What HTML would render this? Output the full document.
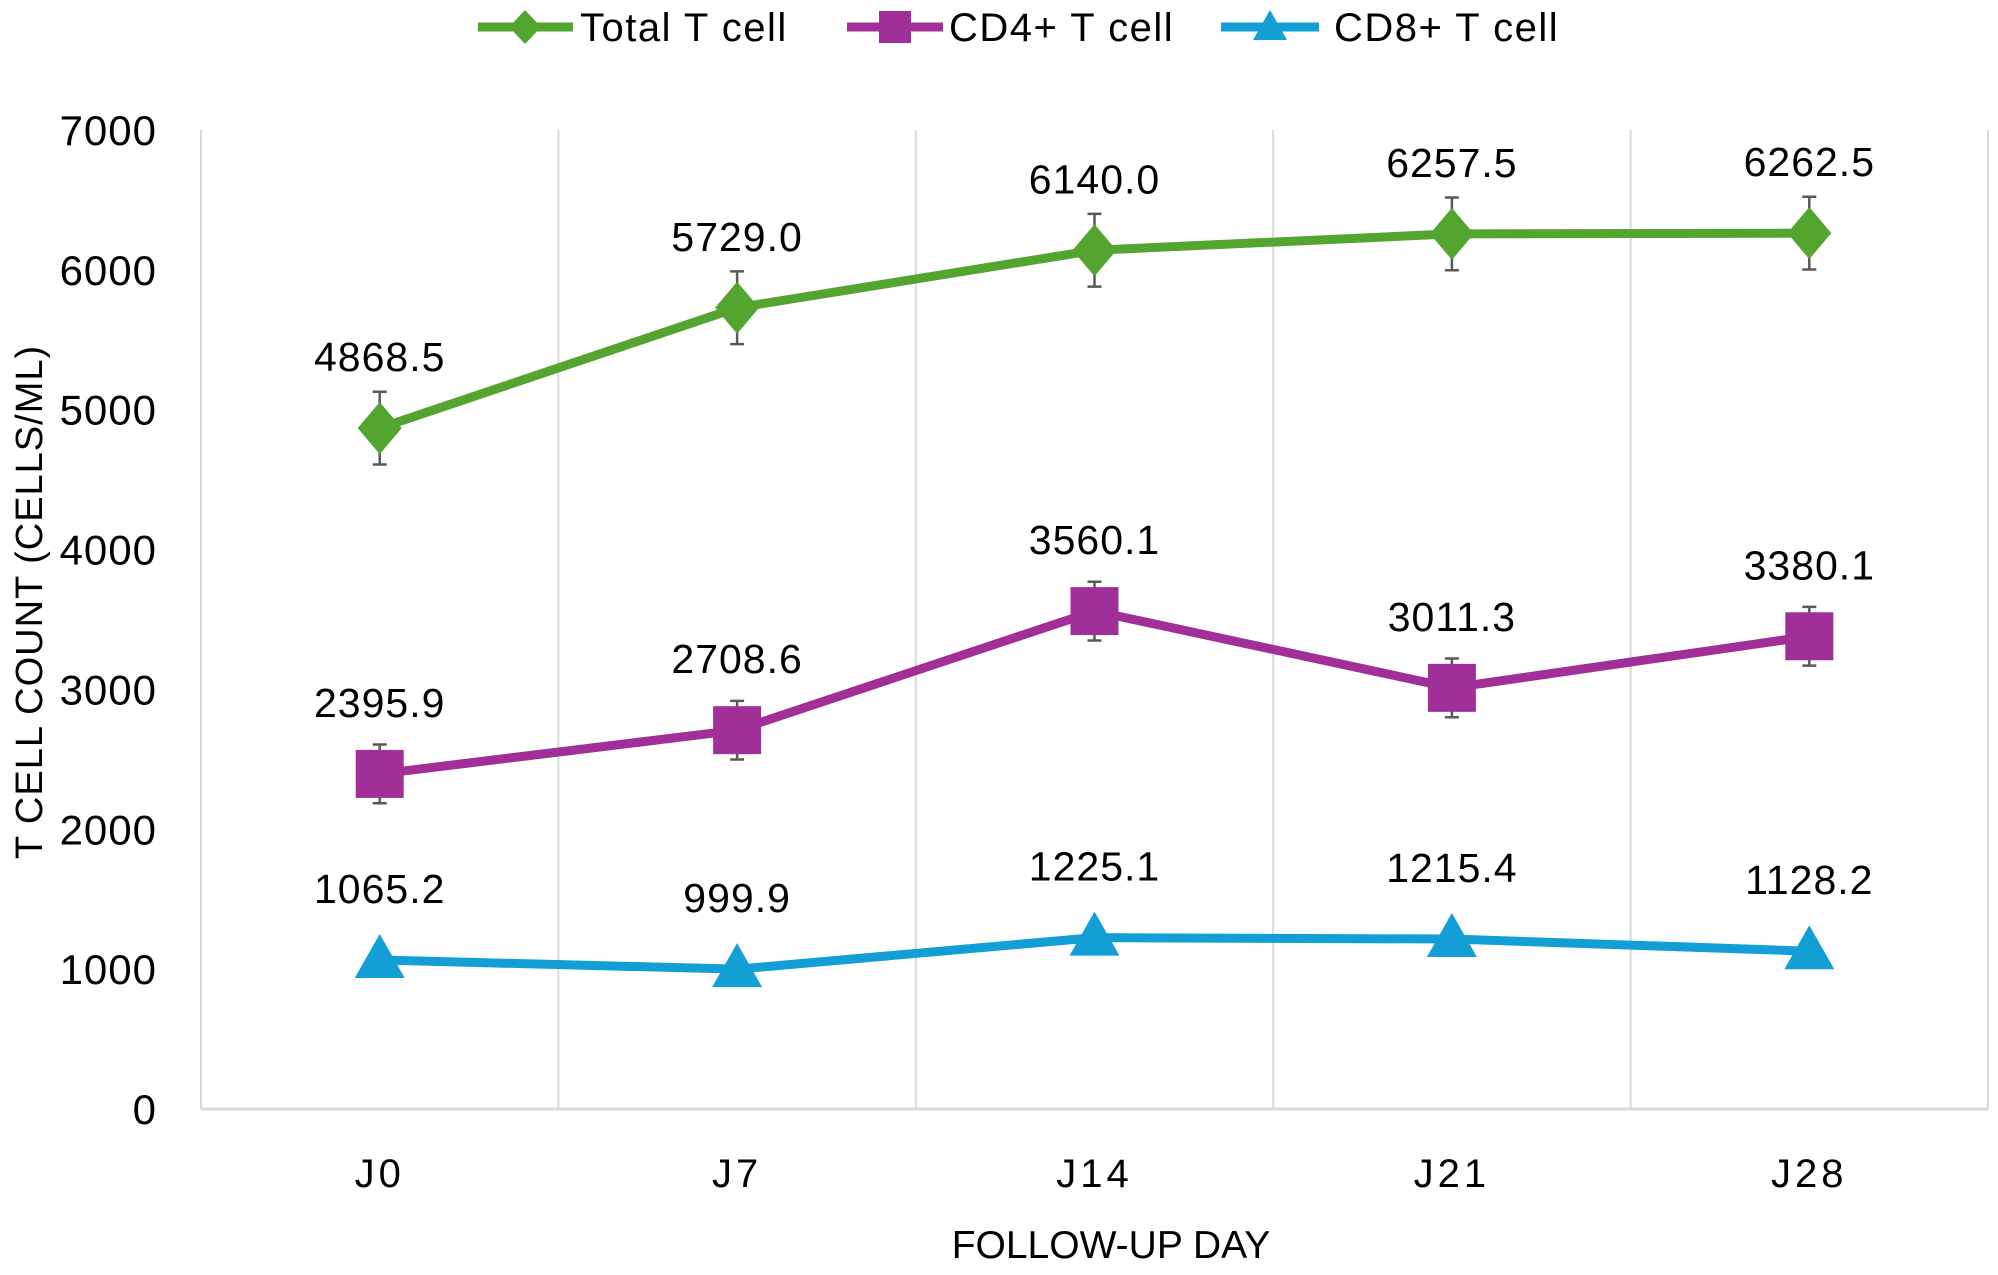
<!DOCTYPE html>
<html><head><meta charset="utf-8"><style>
html,body{margin:0;padding:0;background:#fff;}
svg text{font-family:"Liberation Sans",sans-serif;fill:#000;}
</style></head><body>
<svg id="chart" width="1998" height="1270" viewBox="0 0 1998 1270" xmlns="http://www.w3.org/2000/svg">
<g id="grid"></g>
<g id="yticks"></g>
<g id="xticks"></g>
<g id="series"></g>
<text x="0" y="0" transform="translate(42,602) rotate(-90)" text-anchor="middle" font-size="38" letter-spacing="1">T CELL COUNT (CELLS/ML)</text>
<text x="1111" y="1258" text-anchor="middle" font-size="39">FOLLOW-UP DAY</text>
<g>
 <g>
  <line x1="478" y1="27" x2="573" y2="27" stroke="#53a52f" stroke-width="9"/>
  <path d="M525 10 L541 27 L525 44 L509 27 Z" fill="#53a52f"/>
  <text x="580" y="41" font-size="40" letter-spacing="1.5">Total T cell</text>
 </g>
 <g>
  <line x1="847" y1="27" x2="943" y2="27" stroke="#a02f98" stroke-width="9"/>
  <rect x="879" y="11" width="32" height="32" fill="#a02f98"/>
  <text x="949" y="41" font-size="40" letter-spacing="1.5">CD4+ T cell</text>
 </g>
 <g>
  <line x1="1221" y1="27" x2="1319" y2="27" stroke="#139fd6" stroke-width="9"/>
  <path d="M1270 10 L1287 40 L1253 40 Z" fill="#139fd6"/>
  <text x="1334" y="41" font-size="40" letter-spacing="1.5">CD8+ T cell</text>
 </g>
</g>
</svg>
<script>
const categories = ["J0","J7","J14","J21","J28"];
const totalValues = [4868.5, 5729.0, 6140.0, 6257.5, 6262.5];
const totalErrors = [260, 260, 260, 260, 260];
const cd4Values = [2395.9, 2708.6, 3560.1, 3011.3, 3380.1];
const cd4Errors = [210, 210, 210, 210, 210];
const cd8Values = [1065.2, 999.9, 1225.1, 1215.4, 1128.2];
const yTicks = [0,1000,2000,3000,4000,5000,6000,7000];

const NS = "http://www.w3.org/2000/svg";
const L = 201, R = 1988, Y0 = 1109, Y7 = 130;
const bw = (R - L) / categories.length;
function xPos(i){ return L + bw * (i + 0.5); }
function yPos(v){ return Y0 - (v / 7000) * (Y0 - Y7); }
function mk(tag, attrs, parent){
  const e = document.createElementNS(NS, tag);
  for (const k in attrs) e.setAttribute(k, attrs[k]);
  parent.appendChild(e); return e;
}
const grid = document.getElementById('grid');
for (let i = 1; i <= categories.length; i++) {
  const gl = mk('line', {x1: L + bw*i, x2: L + bw*i, y1: Y7, y2: Y0, stroke: '#d9d9d9', 'stroke-width': 2}, grid);
  
  
}
const ax = mk('line', {x1: L, x2: R, y1: Y0, y2: Y0, stroke: '#d9d9d9', 'stroke-width': 3}, grid);


const ay = mk('line', {x1: L, x2: L, y1: Y7, y2: Y0, stroke: '#d9d9d9', 'stroke-width': 2}, grid);



const yt = document.getElementById('yticks');
yTicks.forEach(v => {
  const t = mk('text', {x: 157, y: yPos(v) + 15, 'text-anchor': 'end', 'font-size': 42, 'letter-spacing': 1}, yt);
  t.textContent = v;
  
  
});
const xt = document.getElementById('xticks');
categories.forEach((c, i) => {
  const t = mk('text', {x: xPos(i), y: 1187, 'text-anchor': 'middle', 'font-size': 40, 'letter-spacing': 4}, xt);
  t.textContent = c;
  
  
});

const sg = document.getElementById('series');
function drawSeries(name, vals, errs, color, shape){
  const g = mk('g', {}, sg);
  
  
  if (errs) {
    vals.forEach((v, i) => {
      const x = xPos(i), a = yPos(v + errs[i]), b = yPos(v - errs[i]);
      const eb = mk('path', {d: `M${x} ${a} L${x} ${b} M${x-7} ${a} L${x+7} ${a} M${x-7} ${b} L${x+7} ${b}`, stroke: '#595959', 'stroke-width': 2.5, fill: 'none'}, g);
      
      
    });
  }
  const pts = vals.map((v, i) => xPos(i) + ',' + yPos(v)).join(' ');
  const pl = mk('polyline', {points: pts, fill: 'none', stroke: color, 'stroke-width': 9, 'stroke-linejoin': 'round'}, g);
  
  
  vals.forEach((v, i) => {
    const x = xPos(i), y = yPos(v);
    let m;
    if (shape === 'diamond') m = mk('path', {d: `M${x} ${y-26} L${x+22} ${y} L${x} ${y+26} L${x-22} ${y} Z`, fill: color}, g);
    else if (shape === 'square') m = mk('rect', {x: x-24, y: y-24, width: 48, height: 48, fill: color}, g);
    else m = mk('path', {d: `M${x} ${y-26} L${x+25} ${y+18} L${x-25} ${y+18} Z`, fill: color}, g);
    
    
    const t = mk('text', {x: x, y: y - 57, 'text-anchor': 'middle', 'font-size': 41, 'letter-spacing': 1}, g);
    t.textContent = v.toFixed(1);
    
    
  });
}
drawSeries('total-t-cell', totalValues, totalErrors, '#53a52f', 'diamond');
drawSeries('cd4-t-cell', cd4Values, cd4Errors, '#a02f98', 'square');
drawSeries('cd8-t-cell', cd8Values, null, '#139fd6', 'triangle');
</script>
</body></html>
